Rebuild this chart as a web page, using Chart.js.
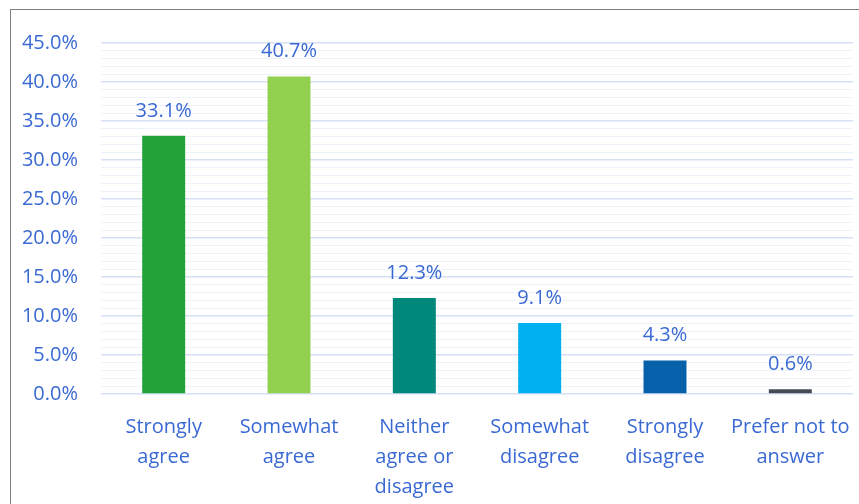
<!DOCTYPE html>
<html>
<head>
<meta charset="utf-8">
<script src="https://cdn.jsdelivr.net/npm/chart.js@4"></script>
<style>
    html, body { margin: 0; padding: 0; background: #ffffff; }
    #wrap { position: relative; width: 859px; height: 504px; }
    #frame {
        position: absolute; left: 10px; top: 9px; width: 870px; height: 520px;
        border: 1px solid #808080; box-sizing: border-box;
    }
    canvas { position: absolute; left: 0; top: 0; }
</style>
</head>
<body>
<div id="wrap">
    <div id="frame"></div>
    <canvas id="chart" width="859" height="504"></canvas>
</div>
<script>
const categories = [
    ['Strongly', 'agree'],
    ['Somewhat', 'agree'],
    ['Neither', 'agree or', 'disagree'],
    ['Somewhat', 'disagree'],
    ['Strongly', 'disagree'],
    ['Prefer not to', 'answer']
];
const values = [33.1, 40.7, 12.3, 9.1, 4.3, 0.6];
const barColors = ['#22A33A', '#92D050', '#00897B', '#00B0F0', '#0760AA', '#474B55'];
const yTickLabels = ['0.0%', '5.0%', '10.0%', '15.0%', '20.0%', '25.0%', '30.0%', '35.0%', '40.0%', '45.0%'];

const textColor = '#3A69D4';
const fontFamily = '"Open Sans", "Liberation Sans", sans-serif';

// Draws the value above each bar
const valueLabels = {
    id: 'valueLabels',
    afterDatasetsDraw(chart) {
        const ctx = chart.ctx;
        const meta = chart.getDatasetMeta(0);
        ctx.save();
        ctx.font = '20px ' + fontFamily;
        ctx.fillStyle = textColor;
        ctx.textAlign = 'center';
        ctx.textBaseline = 'middle';
        meta.data.forEach((bar, i) => {
            ctx.fillText(values[i].toFixed(1) + '%', bar.x, bar.y - 25);
        });
        ctx.restore();
    }
};

new Chart(document.getElementById('chart'), {
    type: 'bar',
    data: {
        labels: categories,
        datasets: [{
            data: values,
            backgroundColor: barColors,
            barPercentage: 0.343,
            categoryPercentage: 1.0,
        }]
    },
    options: {
        responsive: false,
        animation: false,
        layout: {
            padding: { top: 43, right: 6, left: 0, bottom: 0 }
        },
        plugins: {
            legend: { display: false },
            tooltip: { enabled: false }
        },
        scales: {
            x: {
                grid: { display: false, drawTicks: false },
                border: { display: false },
                afterFit: (scale) => {
                    scale.height = 110;
                    scale.paddingLeft = 0;
                    scale.paddingRight = 0;
                },
                ticks: {
                    color: textColor,
                    padding: 18,
                    maxRotation: 0,
                    autoSkip: false,
                    font: { family: fontFamily, size: 20, lineHeight: 1.5 }
                }
            },
            y: {
                min: 0,
                max: 45,
                afterFit: (scale) => { scale.width = 101; },
                border: { display: false },
                grid: {
                    drawTicks: false,
                    color: (c) => (c.tick && c.tick.value % 5 === 0) ? '#D6E0F5' : '#EEF2FA',
                    lineWidth: (c) => (c.tick && c.tick.value % 5 === 0) ? 1.5 : 1
                },
                ticks: {
                    stepSize: 1,
                    autoSkip: false,
                    padding: 23,
                    color: textColor,
                    font: { family: fontFamily, size: 20 },
                    callback: (v) => (v % 5 === 0) ? yTickLabels[v / 5] : ''
                }
            }
        }
    },
    plugins: [valueLabels]
});
</script>
</body>
</html>
